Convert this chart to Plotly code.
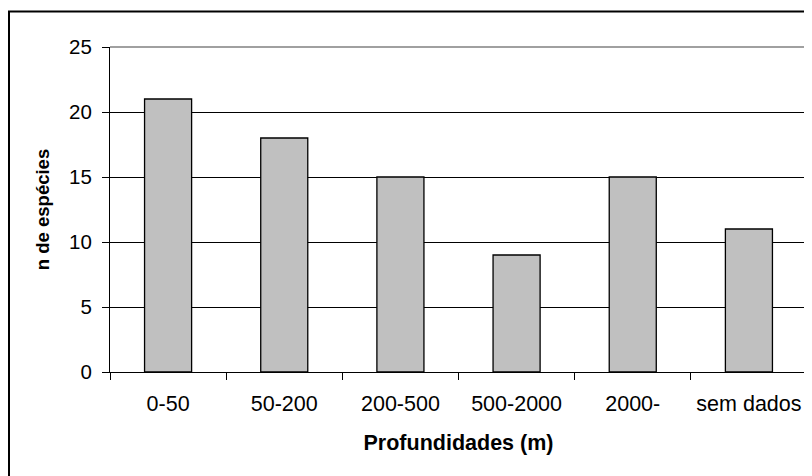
import plotly.graph_objects as go

categories = ["0-50", "50-200", "200-500", "500-2000", "2000-", "sem dados"]
n_especies = [21, 18, 15, 9, 15, 11]
y_ticks = [0, 5, 10, 15, 20, 25]

# page body has an 8px margin, so the figure starts at (8, 8)
W, H = 804, 468
L, R, T, B = 102, 5, 39, 104
pw, ph = W - L - R, H - T - B

fig = go.Figure(go.Bar(
    x=categories, y=n_especies,
    marker=dict(color="#C0C0C0", line=dict(color="black", width=1.3)),
))

font = "Arial, Liberation Sans, sans-serif"
fig.update_layout(
    width=W, height=H,
    margin=dict(l=L, r=R, t=T, b=B),
    paper_bgcolor="white", plot_bgcolor="white",
    bargap=0.595,
    showlegend=False,
    font=dict(family=font, color="black", size=20),
)
fig.update_xaxes(
    showline=True, linecolor="black", linewidth=1,
    ticks="outside", tickson="boundaries", ticklen=7, tickcolor="black",
    ticklabelstandoff=12,
    tickfont=dict(size=21.5),
    showgrid=False,
    title=dict(text="<b>Profundidades (m)</b>", font=dict(size=21.5), standoff=20),
)
fig.update_yaxes(
    range=[0, 25], tickvals=y_ticks,
    showline=True, linecolor="black", linewidth=1,
    ticks="outside", ticklen=7, tickcolor="black",
    ticklabelstandoff=6,
    tickfont=dict(size=20.5),
    showgrid=True, gridcolor="black", gridwidth=1,
    zeroline=False,
    title=dict(text="<b>n de espécies</b>", font=dict(size=18.5), standoff=14),
)

# plot-area border (grey top and right)
fig.add_shape(type="line", xref="paper", yref="paper", x0=0, x1=1, y0=1, y1=1,
              line=dict(color="#808080", width=1.5), layer="above")
fig.add_shape(type="line", xref="paper", yref="paper", x0=1, x1=1, y0=0, y1=1,
              line=dict(color="#808080", width=1.5), layer="above")

# outer chart border (figure pixel coords -> paper coords)
def px_x(p):
    return (p - L) / pw
def px_y(p):
    return 1 - (p - T) / ph
fig.add_shape(type="rect", xref="paper", yref="paper",
              x0=px_x(1), x1=px_x(W + 10), y0=px_y(H + 10), y1=px_y(3.5),
              line=dict(color="black", width=2), layer="below")

fig.write_html("out.html")
